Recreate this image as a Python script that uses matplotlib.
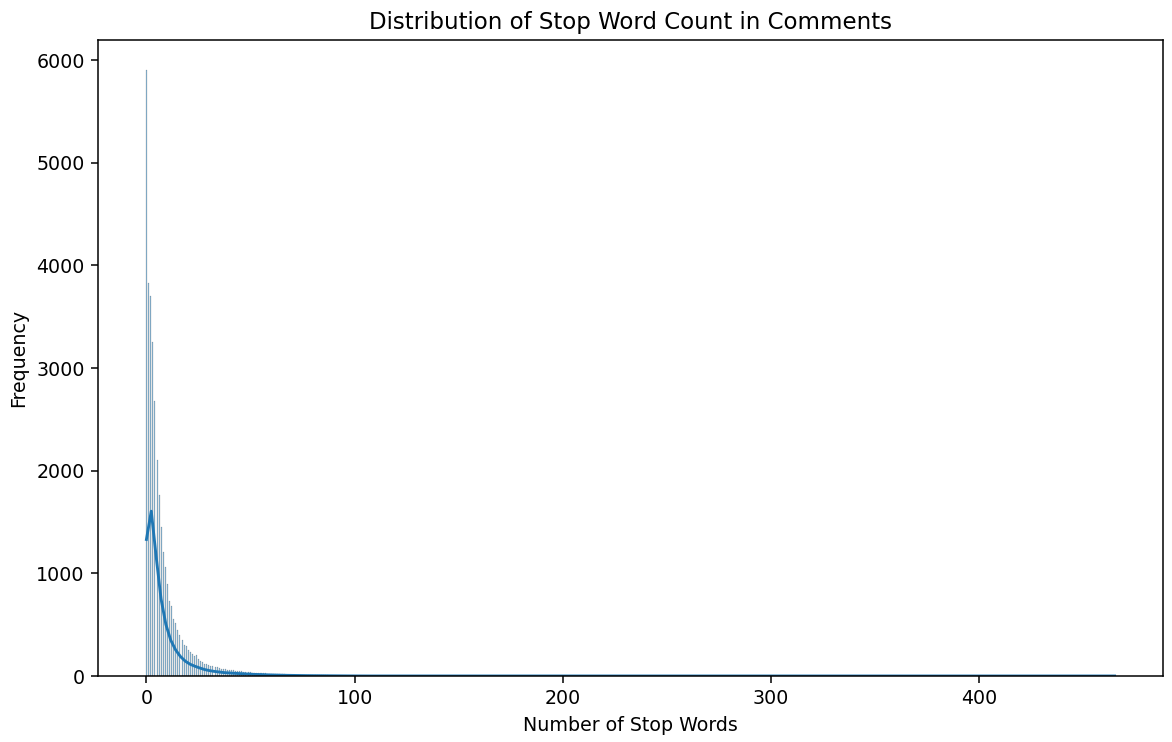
import matplotlib

matplotlib.use("Agg")
import matplotlib.pyplot as plt
import numpy as np
import seaborn as sns

# counts of comments having 0, 1, 2, ... stop words
head_counts = [
    5900, 3830, 3700, 3250, 2680, 2100, 1760, 1450, 1210, 1060,
    900, 730, 680, 560, 520, 450, 400, 350, 300, 290,
    250, 230, 210, 190, 200, 170, 150, 140, 120, 120,
    110, 100, 95, 85, 90, 80, 70, 68, 65, 62,
    60, 58, 55, 52, 50, 48, 45, 43, 40, 38,
    36, 34, 32, 30, 29, 28, 26, 25, 24, 22,
    21, 20, 19, 18, 17, 16, 15, 14, 13, 12,
    12, 11, 10, 10, 9, 9, 8, 8, 7, 7,
    7, 6, 6, 6, 5, 5, 5, 5, 4, 4,
    4, 4, 3, 3, 3, 3, 3, 2, 2, 2,
]
# sparse long tail, one comment each
tail_values = [101, 102, 103, 104, 105, 106, 108, 109, 110, 112, 113, 115,
               117, 118, 120, 121, 123, 125, 127, 128, 131, 133, 135, 138,
               140, 142, 144, 147, 150, 153, 156, 159, 162, 166, 170, 174,
               178, 182, 185, 190, 193, 199, 205, 211, 218, 224, 230, 238,
               247, 255, 262, 271, 280, 290, 301, 315, 330, 347, 365, 388,
               410, 437, 465]

stop_words = np.concatenate([
    np.repeat(np.arange(len(head_counts)), head_counts),
    np.array(tail_values),
]).astype(float)

fig = plt.figure(figsize=(1172 / 137, 742 / 137), dpi=137)
ax = fig.add_axes([98 / 1172, 1 - 676 / 742, 1065 / 1172, 636 / 742])

sns.histplot(stop_words, bins="fd", kde=True, ax=ax)
ax.set_title("Distribution of Stop Word Count in Comments")
ax.set_xlabel("Number of Stop Words")
ax.set_ylabel("Frequency")

fig.savefig("out.png", dpi=137)
